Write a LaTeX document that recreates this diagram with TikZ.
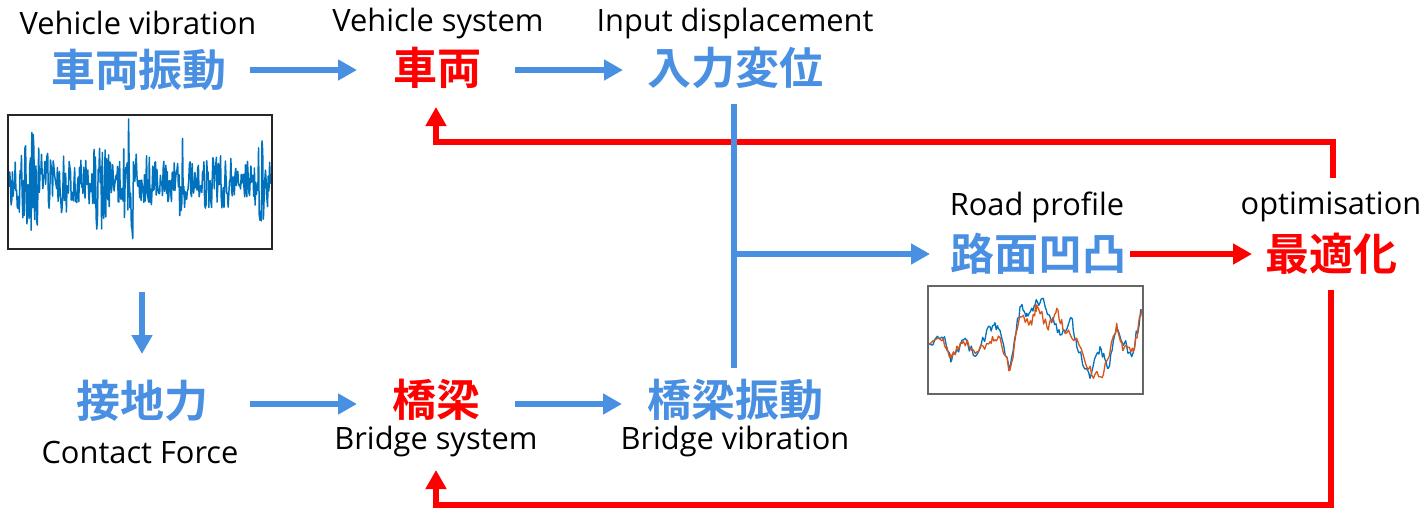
\documentclass[tikz,border=0pt]{standalone}
\usepackage{fontspec}
\setmainfont{Open Sans}
\newfontfamily\jp{Noto Sans CJK JP}[BoldFont={Noto Sans CJK JP Bold}]
\usetikzlibrary{arrows.meta}
\definecolor{myblue}{HTML}{4A90E2}
\definecolor{myred}{HTML}{FF0000}
\definecolor{plotblue}{HTML}{0072BD}
\definecolor{plotorange}{HTML}{D95319}
\begin{document}
\begin{tikzpicture}[x=0.5pt,y=-0.5pt,
 en/.style={font=\fontsize{15.4}{18}\selectfont, inner sep=0},
 jpb/.style={font=\jp\bfseries\fontsize{22}{26}\selectfont, text=myblue, inner sep=0},
 jpr/.style={font=\jp\bfseries\fontsize{22}{26}\selectfont, text=myred, inner sep=0},
 barrow/.style={draw=myblue, line width=3pt, -{Triangle[length=9.5pt,width=10pt]}},
 rarrow/.style={draw=myred, line width=2.8pt, line join=miter, -{Triangle[length=9.5pt,width=10pt]}},
 bline/.style={draw=myblue, line width=3pt},
 plotbox/.style={draw=black!85, line width=0.8pt},
 declare function={env(\x)=22+28*max(0,1-abs(\x-32)/22)+38*max(0,1-abs(\x-100)/10)+50*max(0,1-abs(\x-130)/9)+28*max(0,1-abs(\x-64)/5)+28*max(0,1-abs(\x-183)/8)+22*max(0,1-abs(\x-262)/8)+10*max(0,1-abs(\x-215)/20)+15*max(0,1-abs(\x-150)/6)-12*max(0,1-abs(\x-240)/8)-10*max(0,1-abs(\x-160)/4);}
]
\useasboundingbox (0,0) rectangle (1426,509);

% texts
\node[en] (t1) at (138,23) {Vehicle vibration};
\node[jpb] (vv) at (139,70) {車両振動};
\node[en] (t2) at (438,23) {Vehicle system};
\node[jpr] (vs) at (437,68) {車両};
\node[en] (t3) at (735,23) {Input displacement};
\node[jpb] (id) at (735,68) {入力変位};
\node[jpb] (cf) at (142,401) {接地力};
\node[en] (t4) at (140,452) {Contact Force};
\node[jpr] (bs) at (436,400) {橋梁};
\node[en] (t5) at (436,441) {Bridge system};
\node[jpb] (bv) at (735,400) {橋梁振動};
\node[en] (t6) at (735,441) {Bridge vibration};
\node[en] (t7) at (1037,207) {Road profile};
\node[jpb] (rp) at (1038,254) {路面凹凸};
\node[en] (t8) at (1331,207) {optimisation};
\node[jpr] (op) at (1331,254) {最適化};

% connector coordinates
\coordinate (a1s) at (250,70); \coordinate (a1e) at (357,70);
\coordinate (a2s) at (515,70); \coordinate (a2e) at (623,70);
\coordinate (a3s) at (250,404); \coordinate (a3e) at (357,404);
\coordinate (a4s) at (515,404); \coordinate (a4e) at (622,404);
\coordinate (d1s) at (142,292); \coordinate (d1e) at (142,354);
\coordinate (vtop) at (734,104); \coordinate (vbot) at (734,368);
\coordinate (vmid) at (734,254); \coordinate (rpin) at (930,254);
\coordinate (ors) at (1130,254); \coordinate (ore) at (1252,254);
\coordinate (ftop) at (1333,178); \coordinate (ftc) at (1333,142);
\coordinate (ftl) at (436,142); \coordinate (vsin) at (436,107);
\coordinate (fbot) at (1331,290); \coordinate (fbc) at (1331,505);
\coordinate (fbl) at (436,505); \coordinate (bsin) at (436,470);

% red feedback
\draw[rarrow] (ftop) -- (ftc) -- (ftl) -- (vsin);
\draw[rarrow] (fbot) -- (fbc) -- (fbl) -- (bsin);
\draw[rarrow] (ors) -- (ore);

% blue
\draw[barrow] (a1s) -- (a1e);
\draw[barrow] (a2s) -- (a2e);
\draw[barrow] (a3s) -- (a3e);
\draw[barrow] (a4s) -- (a4e);
\draw[barrow] (d1s) -- (d1e);
\draw[bline] (vtop) -- (vbot);
\draw[barrow] (vmid) -- (rpin);

% vibration plot
\begin{scope}
\clip (8,115) rectangle (272,249);
\pgfmathsetseed{7}
\draw[plotblue, line width=0.75pt, line join=round] plot[samples=380, domain=9:271] (\x,{182+env(\x)*rand});
\end{scope}
\draw[plotbox] (8,115) rectangle (272,249);

% road profile plot
\begin{scope}
\clip (928,286) rectangle (1143,394);
\pgfmathsetseed{3}
\draw[plotblue, line width=0.65pt, line join=round] (928.3,343.3)
 \foreach \x/\y [remember=\x as \lx (initially 928.3), remember=\y as \ly (initially 343.3)] in
 {943.3/338.3, 951.7/360, 963.3/340, 976.7/355, 990/326.7, 998.3/328.3, 1010/368.3, 1020/306.7, 1026.7/313.3, 1035/305, 1043.3/298.3, 1050/316.7, 1060/335, 1071.7/318.3, 1076.7/346.7, 1090/378.3, 1100/346.7, 1108.3/368.3, 1116.7/326.7, 1131.7/356.7, 1141.7/310}
 { \foreach \t in {0.15,0.3,0.45,0.6,0.75,0.9} { -- ({\lx+\t*(\x-\lx)},{\ly+\t*(\y-\ly)+5*rand}) } -- (\x,\y) };
\pgfmathsetseed{11}
\draw[plotorange, line width=0.65pt, line join=round] (928.3,344)
 \foreach \x/\y [remember=\x as \lx (initially 928.3), remember=\y as \ly (initially 344)] in
 {943.3/339, 951.7/358, 963.3/341, 976.7/352, 990/341.7, 998.3/336, 1010/370, 1020/316.7, 1031.7/325, 1036.7/305, 1048.3/330, 1056.7/308.3, 1065/333.3, 1076.7/338.3, 1091.7/375, 1103.3/375, 1116.7/323.3, 1123.3/350, 1133.3/351.7, 1141.7/310}
 { \foreach \t in {0.15,0.3,0.45,0.6,0.75,0.9} { -- ({\lx+\t*(\x-\lx)},{\ly+\t*(\y-\ly)+5*rand}) } -- (\x,\y) };
\end{scope}
\draw[plotbox, draw=black!60] (928,286) rectangle (1143,394);
\end{tikzpicture}
\end{document}
